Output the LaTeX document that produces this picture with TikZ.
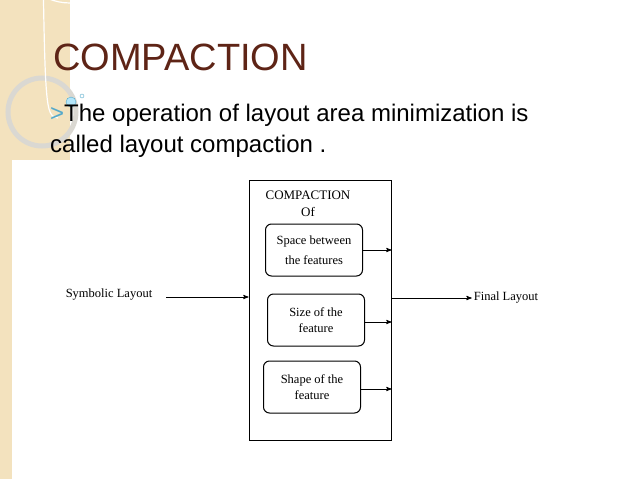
\documentclass[tikz,border=0pt]{standalone}
\usepackage{fontspec}
\setmainfont{Liberation Serif}
\newfontfamily\slidefont{Liberation Sans}
\usetikzlibrary{arrows,positioning}
\definecolor{titlebrown}{RGB}{94,36,22}
\definecolor{stripbeige}{RGB}{243,226,190}
\definecolor{ringgray}{RGB}{218,216,210}
\begin{document}
\begin{tikzpicture}[x=1pt,y=-1pt,
            featbox/.style={draw, rounded corners=6pt, line width=1pt, minimum width=97pt, minimum height=52pt, font=\fontsize{12.5}{16}\selectfont, align=center},
            flow/.style={->, >=stealth', line width=0.9pt, shorten >=0pt},
            every node/.style={inner sep=0pt}
        ]
        \useasboundingbox (0,0) rectangle (638,479);
        % slide background
        \fill[stripbeige] (0,0) rectangle (70,160);
        \fill[stripbeige] (0,160) rectangle (12,479);
        \draw[ringgray, line width=5pt] (42,112) circle (34);
        \draw[white, line width=1.2pt] (70,3) arc (90:240:56) .. controls (45,115) .. (58,118);
        \fill[cyan!30!white, draw=cyan!60!gray] (71,102) circle (5);
        \draw[cyan!60!gray] (82,96) circle (2);

        \node[anchor=west, text=titlebrown, font=\slidefont\fontsize{38}{38}\selectfont] (title) at (53,57) {COMPACTION};
        \node[anchor=north west, align=left, font=\slidefont\fontsize{24}{31}\selectfont] (body) at (50,104)
            {{\color{cyan!60!gray}\textgreater}The operation of layout area minimization is\\called layout compaction .};

        % diagram
        \node[draw, line width=1pt, minimum width=142pt, minimum height=260pt] (compact) at (320,310) {};
        \node[font=\fontsize{13}{17}\selectfont, align=center] (head) at (308,204) {COMPACTION\\Of};
        \node[featbox] (space) at (314,250) {Space between\\[4pt]the features};
        \node[featbox] (size) at (316,320) {Size of the\\feature};
        \node[featbox] (shape) at (312,387) {Shape of the\\feature};
        \node[font=\fontsize{12.5}{15}\selectfont] (symb) at (109,295) {Symbolic Layout};
        \node[font=\fontsize{12.5}{15}\selectfont] (final) at (506,298) {Final Layout};

        \draw[flow] (symb.east) ++(14,2) coordinate (sin) -- (sin -| compact.west);
        \draw[flow] (compact.east |- final) -- ([xshift=-2pt]final.west);
        \draw[flow] (space.east) -- (space -| compact.east);
        \draw[flow] (size.east) ++(0,2) coordinate (szo) -- (szo -| compact.east);
        \draw[flow] (shape.east) ++(0,2) coordinate (sho) -- (sho -| compact.east);
    \end{tikzpicture}
\end{document}
